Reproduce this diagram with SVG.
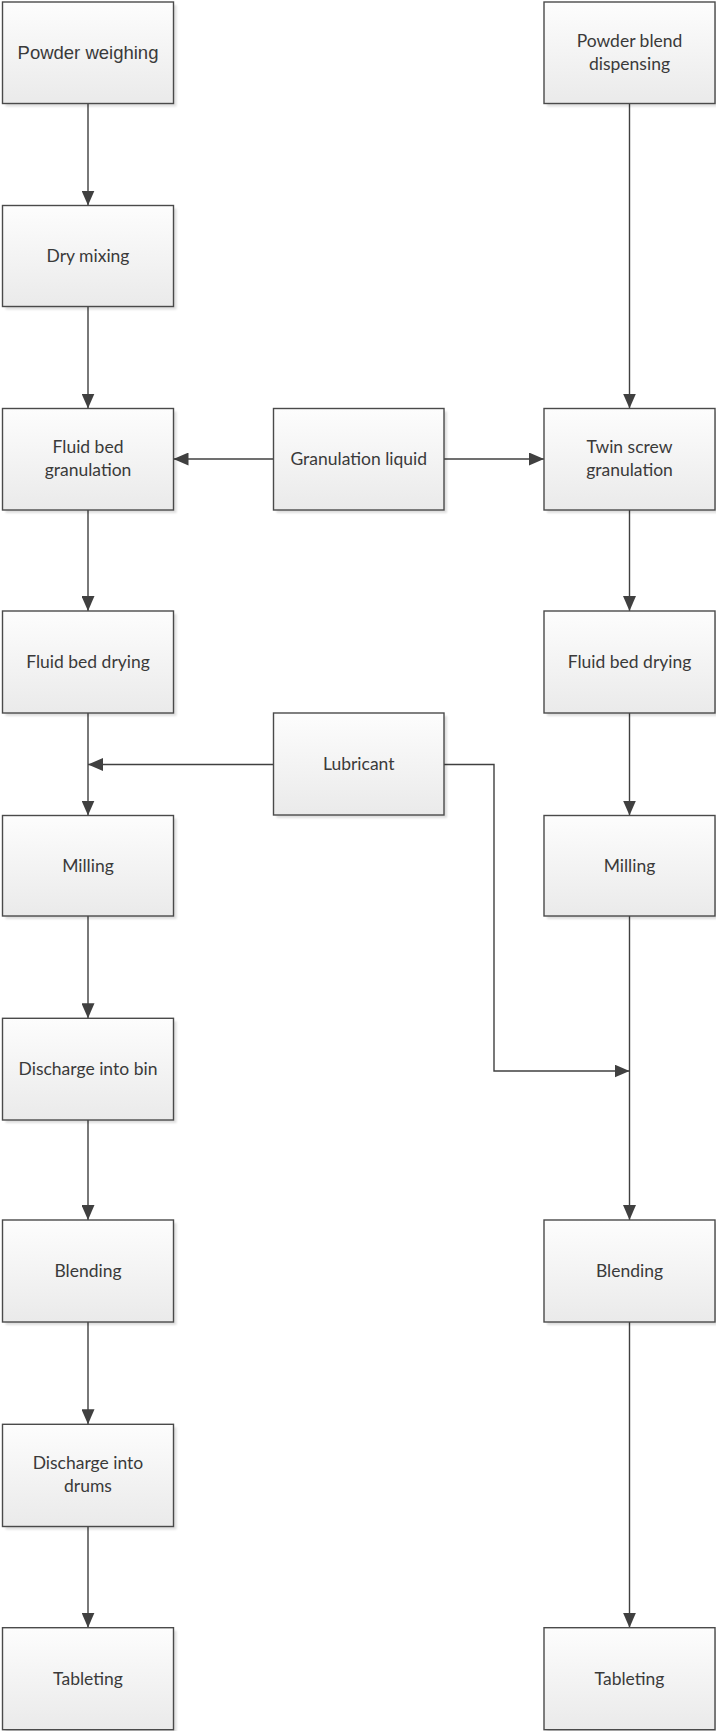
<svg xmlns="http://www.w3.org/2000/svg" width="716" height="1731" viewBox="0 0 716 1731">
<style>
  .box { fill: url(#boxGrad); stroke: #4a4a4a; stroke-width: 1.4; }
  .shadow { fill: #000; opacity: 0.13; filter: url(#blur); }
  .lbl { font-family: Lato, "Open Sans", sans-serif; font-size: 17.5px; fill: #3a3a3a; text-anchor: middle; }
  .lbl-arial { font-family: "Liberation Sans", Arial, sans-serif; font-size: 18.5px; fill: #3a3a3a; text-anchor: middle; }
  .conn { fill: none; stroke: #404040; stroke-width: 1.4; marker-end: url(#arrow); }
</style>
<defs>
  <linearGradient id="boxGrad" x1="0" y1="0" x2="0" y2="1">
    <stop offset="0" stop-color="#fdfdfd"/>
    <stop offset="1" stop-color="#eaeaea"/>
  </linearGradient>
  <filter id="blur" x="-10%" y="-10%" width="120%" height="120%">
    <feGaussianBlur stdDeviation="1"/>
  </filter>
  <marker id="arrow" viewBox="0 0 15 13" refX="15" refY="6.5" markerWidth="15" markerHeight="13" markerUnits="userSpaceOnUse" orient="auto">
    <path d="M0,0 L15,6.5 L0,13 z" fill="#404040"/>
  </marker>
</defs>
<rect width="716" height="1731" fill="#ffffff"/>

<g id="connectors">
  <!-- left column -->
  <line class="conn" x1="88" y1="103.5" x2="88" y2="205.5"/>
  <line class="conn" x1="88" y1="306.5" x2="88" y2="408.5"/>
  <line class="conn" x1="88" y1="510" x2="88" y2="611"/>
  <line class="conn" x1="88" y1="713" x2="88" y2="815.5"/>
  <line class="conn" x1="88" y1="916" x2="88" y2="1018.3"/>
  <line class="conn" x1="88" y1="1120" x2="88" y2="1220"/>
  <line class="conn" x1="88" y1="1322" x2="88" y2="1424.3"/>
  <line class="conn" x1="88" y1="1526.5" x2="88" y2="1627.7"/>
  <!-- right column -->
  <line class="conn" x1="629.5" y1="103.5" x2="629.5" y2="408.5"/>
  <line class="conn" x1="629.5" y1="510" x2="629.5" y2="611"/>
  <line class="conn" x1="629.5" y1="713" x2="629.5" y2="815.5"/>
  <line class="conn" x1="629.5" y1="916" x2="629.5" y2="1220"/>
  <line class="conn" x1="629.5" y1="1322" x2="629.5" y2="1627.7"/>
  <!-- granulation liquid -->
  <line class="conn" x1="273.5" y1="459" x2="173.5" y2="459"/>
  <line class="conn" x1="444" y1="459" x2="544" y2="459"/>
  <!-- lubricant -->
  <line class="conn" x1="273.5" y1="764.5" x2="88" y2="764.5"/>
  <polyline class="conn" points="444,764.5 494,764.5 494,1071 629.5,1071"/>
</g>

<g id="n-powder-weighing">
  <rect class="shadow" x="5.5" y="5" width="171" height="101.5"/>
  <rect class="box" x="2.5" y="2" width="171" height="101.5"/>
  <text class="lbl-arial" x="88" y="59">Powder weighing</text>
</g>
<g id="n-dry-mixing">
  <rect class="shadow" x="5.5" y="208.5" width="171" height="101"/>
  <rect class="box" x="2.5" y="205.5" width="171" height="101"/>
  <text class="lbl" x="88" y="261.8">Dry mixing</text>
</g>
<g id="n-fluid-bed-granulation">
  <rect class="shadow" x="5.5" y="411.5" width="171" height="101.5"/>
  <rect class="box" x="2.5" y="408.5" width="171" height="101.5"/>
  <text class="lbl" x="88" y="453">Fluid bed</text>
  <text class="lbl" x="88" y="476">granulation</text>
</g>
<g id="n-fluid-bed-drying-l">
  <rect class="shadow" x="5.5" y="614" width="171" height="102"/>
  <rect class="box" x="2.5" y="611" width="171" height="102"/>
  <text class="lbl" x="88" y="667.8">Fluid bed drying</text>
</g>
<g id="n-milling-l">
  <rect class="shadow" x="5.5" y="818.5" width="171" height="100.5"/>
  <rect class="box" x="2.5" y="815.5" width="171" height="100.5"/>
  <text class="lbl" x="88" y="871.5">Milling</text>
</g>
<g id="n-discharge-bin">
  <rect class="shadow" x="5.5" y="1021.3" width="171" height="101.7"/>
  <rect class="box" x="2.5" y="1018.3" width="171" height="101.7"/>
  <text class="lbl" x="88" y="1075">Discharge into bin</text>
</g>
<g id="n-blending-l">
  <rect class="shadow" x="5.5" y="1223" width="171" height="102"/>
  <rect class="box" x="2.5" y="1220" width="171" height="102"/>
  <text class="lbl" x="88" y="1276.8">Blending</text>
</g>
<g id="n-discharge-drums">
  <rect class="shadow" x="5.5" y="1427.3" width="171" height="102.2"/>
  <rect class="box" x="2.5" y="1424.3" width="171" height="102.2"/>
  <text class="lbl" x="88" y="1469">Discharge into</text>
  <text class="lbl" x="88" y="1492">drums</text>
</g>
<g id="n-tableting-l">
  <rect class="shadow" x="5.5" y="1630.7" width="171" height="102"/>
  <rect class="box" x="2.5" y="1627.7" width="171" height="102"/>
  <text class="lbl" x="88" y="1684.5">Tableting</text>
</g>

<g id="n-granulation-liquid">
  <rect class="shadow" x="276.5" y="411.5" width="170.5" height="101.5"/>
  <rect class="box" x="273.5" y="408.5" width="170.5" height="101.5"/>
  <text class="lbl" x="358.75" y="465">Granulation liquid</text>
</g>
<g id="n-lubricant">
  <rect class="shadow" x="276.5" y="716" width="170.5" height="102"/>
  <rect class="box" x="273.5" y="713" width="170.5" height="102"/>
  <text class="lbl" x="358.75" y="769.8">Lubricant</text>
</g>

<g id="n-powder-blend-dispensing">
  <rect class="shadow" x="547" y="5" width="171" height="101.5"/>
  <rect class="box" x="544" y="2" width="171" height="101.5"/>
  <text class="lbl" x="629.5" y="47">Powder blend</text>
  <text class="lbl" x="629.5" y="70">dispensing</text>
</g>
<g id="n-twin-screw-granulation">
  <rect class="shadow" x="547" y="411.5" width="171" height="101.5"/>
  <rect class="box" x="544" y="408.5" width="171" height="101.5"/>
  <text class="lbl" x="629.5" y="453">Twin screw</text>
  <text class="lbl" x="629.5" y="476">granulation</text>
</g>
<g id="n-fluid-bed-drying-r">
  <rect class="shadow" x="547" y="614" width="171" height="102"/>
  <rect class="box" x="544" y="611" width="171" height="102"/>
  <text class="lbl" x="629.5" y="667.8">Fluid bed drying</text>
</g>
<g id="n-milling-r">
  <rect class="shadow" x="547" y="818.5" width="171" height="100.5"/>
  <rect class="box" x="544" y="815.5" width="171" height="100.5"/>
  <text class="lbl" x="629.5" y="871.5">Milling</text>
</g>
<g id="n-blending-r">
  <rect class="shadow" x="547" y="1223" width="171" height="102"/>
  <rect class="box" x="544" y="1220" width="171" height="102"/>
  <text class="lbl" x="629.5" y="1276.8">Blending</text>
</g>
<g id="n-tableting-r">
  <rect class="shadow" x="547" y="1630.7" width="171" height="102"/>
  <rect class="box" x="544" y="1627.7" width="171" height="102"/>
  <text class="lbl" x="629.5" y="1684.5">Tableting</text>
</g>
</svg>
